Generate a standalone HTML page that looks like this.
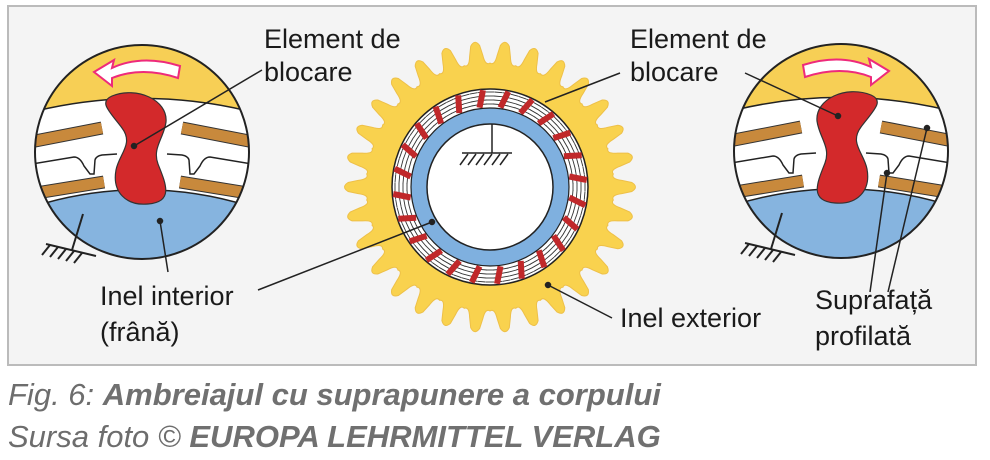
<!DOCTYPE html>
<html><head><meta charset="utf-8"><style>
html,body{margin:0;padding:0;background:#fff;}
body{width:990px;height:460px;overflow:hidden;position:relative;font-family:"Liberation Sans",sans-serif;}
svg{position:absolute;left:0;top:0;}
.cap{position:absolute;left:8px;font-size:31px;line-height:36px;font-style:italic;color:#6d6d6d;white-space:nowrap;letter-spacing:0px;}
.cap b{color:#707070;}
</style></head><body>
<svg width="990" height="460" viewBox="0 0 990 460">
<defs>
<clipPath id="cc"><circle cx="0" cy="0" r="107"/></clipPath>
<g id="det">
 <g clip-path="url(#cc)">
  <rect x="-110" y="-110" width="220" height="220" fill="#fff"/>
  <path d="M-110,-110 H110 V-40 A452,452 0 0 0 -110,-40 Z" fill="#f7cf55"/>
  <path d="M-110,-40 A452,452 0 0 1 110,-40" fill="none" stroke="#222" stroke-width="1.5"/>
  <path d="M-110,110 H110 V55 A359,359 0 0 0 -110,55 Z" fill="#86b4df"/>
  <path d="M-110,55 A359,359 0 0 1 110,55" fill="none" stroke="#222" stroke-width="1.5"/>
  <g fill="none" stroke-linecap="butt">
   <path d="M-112,-10 L-40,-24" stroke="#333" stroke-width="13"/>
   <path d="M-112,-10 L-40,-24" stroke="#c8893c" stroke-width="11"/>
   <path d="M40,-24 L112,-10" stroke="#333" stroke-width="13"/>
   <path d="M40,-24 L112,-10" stroke="#c8893c" stroke-width="11"/>
   <path d="M-112,42 L-38,30" stroke="#333" stroke-width="13"/>
   <path d="M-112,42 L-38,30" stroke="#c8893c" stroke-width="11"/>
   <path d="M38,30 L112,42" stroke="#333" stroke-width="13"/>
   <path d="M38,30 L112,42" stroke="#c8893c" stroke-width="11"/>
   <path d="M-110,12 L-68,5 Q-62,5 -58,14 L-52,22 L-48,22 L-47,8 Q-46,4 -40,3 L-25,2" stroke="#222" stroke-width="1.5"/>
   <path d="M110,12 L68,5 Q62,5 58,14 L52,22 L48,22 L47,8 Q46,4 40,3 L25,2" stroke="#222" stroke-width="1.5"/>
  </g>
  <path d="M-30,-56 C-5,-66 26,-52 24,-30 C22,-14 10,-4 16,12 C24,32 32,50 6,52 C-16,54 -30,40 -26,18 C-23,2 -8,-8 -20,-24 C-32,-40 -44,-50 -30,-56Z" fill="#d3292b" stroke="#333" stroke-width="1.2"/>
  <path d="M38,-86 Q0,-98 -30,-84 L-28,-92 L-48,-80 L-30,-66 L-30,-74 Q0,-86 36,-74 Z" fill="#fff" stroke="#ee2a7b" stroke-width="2"/>
 </g>
 <circle cx="0" cy="0" r="107" fill="none" stroke="#222" stroke-width="2"/>
</g>
<g id="gnd" stroke="#222" stroke-width="2" fill="none">
  <path d="M-59,62 L-70,98"/>
  <path d="M-96,92 L-46,104"/>
  <path d="M-92,93 L-100,103 M-84,95 L-92,105 M-76,97 L-84,107 M-68,99 L-76,109 M-60,101 L-68,111"/>
</g>
</defs>
<rect x="8" y="6" width="968" height="359" fill="#f4f4f4" stroke="#bbb" stroke-width="2"/>
<use href="#det" transform="translate(142,152)"/>
<use href="#gnd" transform="translate(142,152)"/>
<use href="#det" transform="translate(841,151) scale(-1,1)"/>
<use href="#gnd" transform="translate(841,151)"/>
<g id="gear"></g>
<g stroke="#222" stroke-width="1.5" fill="#222">
 <line x1="134" y1="146" x2="262" y2="70"/><circle cx="134" cy="146" r="2.5"/>
 <line x1="160" y1="221" x2="168" y2="272"/><circle cx="160" cy="221" r="2.5"/>
 <line x1="838" y1="116" x2="745" y2="73"/><circle cx="838" cy="116" r="2.5"/>
 <line x1="887" y1="173" x2="870" y2="292"/><circle cx="887" cy="173" r="2.5"/>
 <line x1="927" y1="128" x2="888" y2="292"/><circle cx="927" cy="128" r="2.5"/>
 <line x1="545" y1="102" x2="620" y2="73"/>
 <line x1="432" y1="222" x2="258" y2="290"/><circle cx="432" cy="222" r="2.5"/>
 <line x1="548" y1="285" x2="612" y2="318"/><circle cx="548" cy="285" r="2.5"/>
</g>
<g font-family="Liberation Sans, sans-serif" font-size="27" fill="#1a1a1a">
 <text x="264" y="48">Element de</text><text x="264" y="81">blocare</text>
 <text x="630" y="48">Element de</text><text x="630" y="81">blocare</text>
 <text x="100" y="305">Inel interior</text><text x="100" y="341">(frână)</text>
 <text x="620" y="327">Inel exterior</text>
 <text x="815" y="309">Suprafață</text><text x="815" y="345">profilată</text>
</g>
</svg>
<div class="cap" style="top:377px">Fig. 6: <b>Ambreiajul cu suprapunere a corpului</b></div>
<div class="cap" style="top:419px">Sursa foto © <b>EUROPA LEHRMITTEL VERLAG</b></div>
<script>
(function(){
var cx=490,cy=187,N=30,ro=147,ri=124,s="";
function P(r,a){return (cx+r*Math.cos(a)).toFixed(1)+","+(cy+r*Math.sin(a)).toFixed(1);}
var w=2*Math.PI/N;
for(var i=0;i<N;i++){
 var a=i*w;
 s+=(i==0?"M":"L")+P(ri,a-w*0.5)+" Q"+P(ri-3,a-w*0.32)+" "+P(ri+8,a-w*0.24)+" L"+P(ro-5,a-w*0.15)+" Q"+P(ro+2,a)+" "+P(ro-5,a+w*0.15)+" L"+P(ri+8,a+w*0.24)+" Q"+P(ri-3,a+w*0.32)+" "+P(ri,a+w*0.5)+" ";
}
s+="Z";
var h='<path d="'+s+'" fill="#f9d24e" stroke="#eec048" stroke-width="1"/>';
h+='<circle cx="'+cx+'" cy="'+cy+'" r="98" fill="#fff" stroke="#222" stroke-width="1.5"/>';
for(var k=0;k<72;k++){var b=k*2*Math.PI/72;var t=b+Math.PI/2;
 for(var r2=83;r2<=95;r2+=4){h+='<line x1="'+(cx+r2*Math.cos(b)-4*Math.cos(t)).toFixed(1)+'" y1="'+(cy+r2*Math.sin(b)-4*Math.sin(t)).toFixed(1)+'" x2="'+(cx+r2*Math.cos(b)+4*Math.cos(t)).toFixed(1)+'" y2="'+(cy+r2*Math.sin(b)+4*Math.sin(t)).toFixed(1)+'" stroke="#333" stroke-width="0.9"/>';}}
for(var m=0;m<24;m++){var c=m*2*Math.PI/24+0.13;
 h+='<line x1="'+(cx+80*Math.cos(c)).toFixed(1)+'" y1="'+(cy+80*Math.sin(c)).toFixed(1)+'" x2="'+(cx+97*Math.cos(c+0.06)).toFixed(1)+'" y2="'+(cy+97*Math.sin(c+0.06)).toFixed(1)+'" stroke="#c0282a" stroke-width="6"/>';}
h+='<circle cx="'+cx+'" cy="'+cy+'" r="71" fill="none" stroke="#7fb0df" stroke-width="16"/>';
h+='<circle cx="'+cx+'" cy="'+cy+'" r="79" fill="none" stroke="#222" stroke-width="1.2"/>';
h+='<circle cx="'+cx+'" cy="'+cy+'" r="63" fill="#fff" stroke="#222" stroke-width="1.5"/>';
h+='<g stroke="#222" stroke-width="1.5"><line x1="492" y1="124" x2="492" y2="153"/><line x1="462" y1="153" x2="512" y2="153"/>';
for(var q=0;q<6;q++){h+='<line x1="'+(468+q*8)+'" y1="154" x2="'+(460+q*8)+'" y2="165"/>';}
h+='</g>';
document.getElementById('gear').innerHTML=h;
})();
</script>
</body></html>
